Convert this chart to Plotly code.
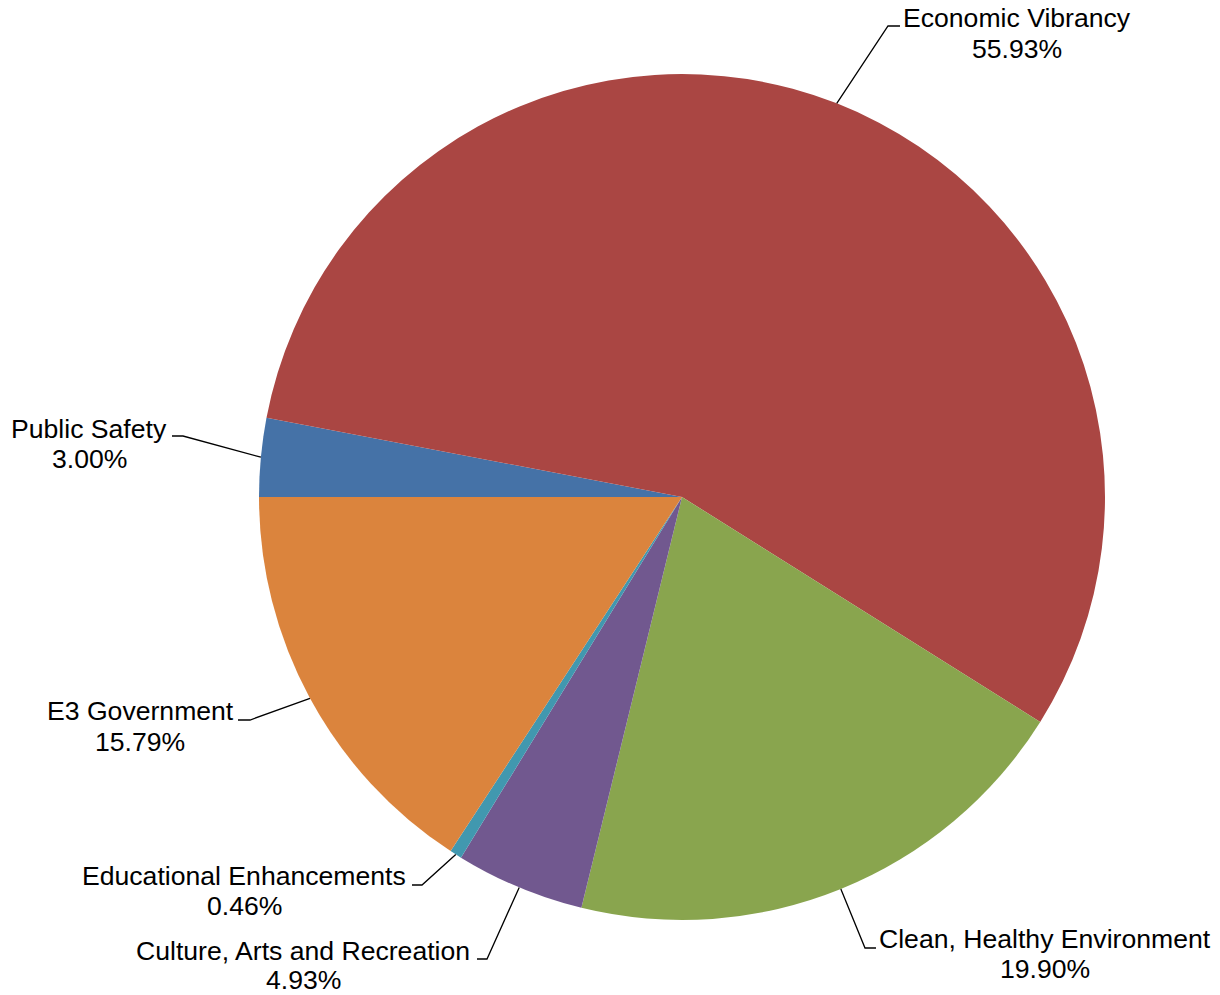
import math
import plotly.graph_objects as go

# ---- data -------------------------------------------------------------
categories = [
    "Public Safety",
    "Economic Vibrancy",
    "Clean, Healthy Environment",
    "Culture, Arts and Recreation",
    "Educational Enhancements",
    "E3 Government",
]
shares = [3.00, 55.93, 19.90, 4.93, 0.46, 15.79]
share_labels = ["3.00%", "55.93%", "19.90%", "4.93%", "0.46%", "15.79%"]

# ---- styling / layout -------------------------------------------------
colors = ["#4572A7", "#AA4643", "#89A54E", "#71588F", "#4198AF", "#DB843D"]
W, H = 1220, 995
CX, CY, R = 682, 497, 423          # pie centre and radius (px)
ROTATION = -90                      # first slice starts at 9 o'clock
FONT = "Liberation Sans, Arial, sans-serif"
FONT_SIZE = 26.6

# label placement (px): elbow of leader, end of the short horizontal tick,
# text centre x, baseline of the name line, baseline of the percent line
label_pos = [
    dict(elbow=(183, 436), tick=172, tx=89, b1=438, b2=468),
    dict(elbow=(888, 26), tick=900, tx=1017, b1=27, b2=58),
    dict(elbow=(865, 948), tick=876, tx=1045, b1=948, b2=978),
    dict(elbow=(487, 959), tick=477, tx=303, b1=960, b2=989),
    dict(elbow=(422, 885), tick=412, tx=244, b1=885, b2=915),
    dict(elbow=(250, 720), tick=238, tx=140, b1=720, b2=751),
]


def px(x):
    return x / W


def py(y):
    return 1 - y / H


fig = go.Figure(
    go.Pie(
        labels=categories,
        values=shares,
        sort=False,
        direction="clockwise",
        rotation=ROTATION,
        marker=dict(colors=colors, line=dict(width=0)),
        textinfo="none",
        hoverinfo="label+percent",
        showlegend=False,
        domain=dict(x=[px(CX - R), px(CX + R)], y=[py(CY + R), py(CY - R)]),
    )
)

total = sum(shares)
cum = 0.0
shapes, annotations = [], []
for name, val, lab, pos in zip(categories, shares, share_labels, label_pos):
    # mid-angle of the slice, measured clockwise from 12 o'clock
    theta = math.radians(ROTATION + 360.0 * (cum + val / 2) / total)
    cum += val
    sx = CX + R * math.sin(theta)
    sy = CY - R * math.cos(theta)
    ex, ey = pos["elbow"]
    path = "M {:.5f},{:.5f} L {:.5f},{:.5f} L {:.5f},{:.5f}".format(
        px(sx), py(sy), px(ex), py(ey), px(pos["tick"]), py(ey)
    )
    shapes.append(dict(type="path", xref="paper", yref="paper", path=path,
                       line=dict(color="black", width=1.3)))
    for text, base in ((name, pos["b1"]), (lab, pos["b2"])):
        annotations.append(dict(
            x=px(pos["tx"]), y=py(base - 9), xref="paper", yref="paper",
            text=text, showarrow=False, xanchor="center", yanchor="middle",
            font=dict(family=FONT, size=FONT_SIZE, color="black"),
        ))

fig.update_layout(
    width=W, height=H,
    margin=dict(l=0, r=0, t=0, b=0),
    paper_bgcolor="white", plot_bgcolor="white",
    shapes=shapes, annotations=annotations,
)

fig.write_html("out.html")
